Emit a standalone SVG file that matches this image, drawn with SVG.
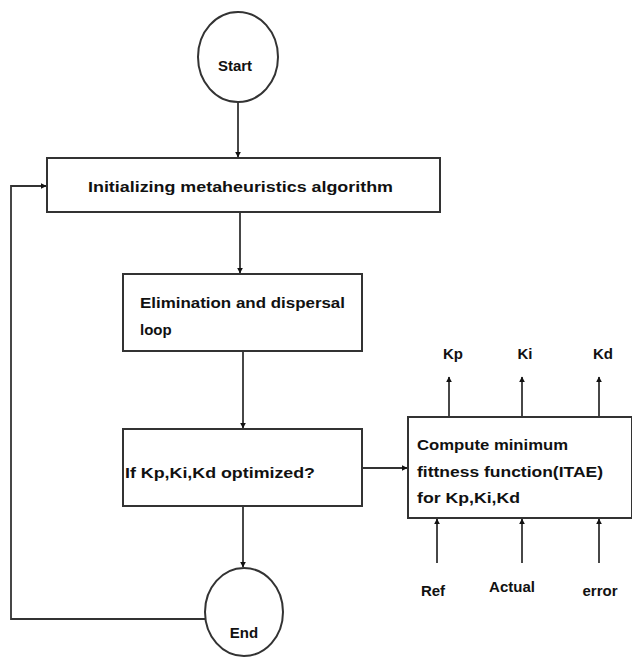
<svg xmlns="http://www.w3.org/2000/svg" width="632" height="661" viewBox="0 0 632 661">
<style>
.shape{fill:#fff;stroke:#333;stroke-width:2}
.ln{fill:none;stroke:#333;stroke-width:1.8}
.t{font-family:"Liberation Sans",Arial,sans-serif;font-weight:bold;font-size:15px;fill:#111}
</style>
<defs>
<marker id="ah" viewBox="0 0 10 10" refX="9" refY="5" markerWidth="6" markerHeight="6" orient="auto" markerUnits="userSpaceOnUse">
<path d="M0,0L10,5L0,10z" fill="#111"/>
</marker>
</defs>
<rect width="632" height="661" fill="#fff"/>
<g id="connectors">
<line class="ln" x1="238" y1="102" x2="238" y2="157" marker-end="url(#ah)"/>
<line class="ln" x1="240" y1="212" x2="240" y2="273" marker-end="url(#ah)"/>
<line class="ln" x1="243" y1="351" x2="243" y2="428" marker-end="url(#ah)"/>
<line class="ln" x1="362" y1="468" x2="407" y2="468" marker-end="url(#ah)"/>
<line class="ln" x1="243" y1="506" x2="243" y2="567" marker-end="url(#ah)"/>
<polyline class="ln" points="205,619 11,619 11,186 46,186" marker-end="url(#ah)"/>
<line class="ln" x1="449" y1="417" x2="449" y2="377" marker-end="url(#ah)"/>
<line class="ln" x1="522" y1="417" x2="522" y2="377" marker-end="url(#ah)"/>
<line class="ln" x1="599" y1="417" x2="599" y2="377" marker-end="url(#ah)"/>
<line class="ln" x1="437" y1="563" x2="437" y2="519" marker-end="url(#ah)"/>
<line class="ln" x1="522" y1="563" x2="522" y2="519" marker-end="url(#ah)"/>
<line class="ln" x1="599" y1="563" x2="599" y2="519" marker-end="url(#ah)"/>
</g>
<g id="start">
<ellipse class="shape" cx="238" cy="57" rx="40" ry="45"/>
<text class="t" x="235" y="71" text-anchor="middle">Start</text>
</g>
<g id="init">
<rect class="shape" x="47" y="158" width="393" height="54"/>
<text class="t" x="88" y="192" textLength="305" lengthAdjust="spacingAndGlyphs">Initializing metaheuristics algorithm</text>
</g>
<g id="elim">
<rect class="shape" x="123" y="274" width="239" height="77"/>
<text class="t" x="140" y="308" textLength="205" lengthAdjust="spacingAndGlyphs">Elimination and dispersal</text>
<text class="t" x="140" y="335">loop</text>
</g>
<g id="decision">
<rect class="shape" x="123" y="429" width="239" height="77"/>
<text class="t" x="125" y="478" textLength="190" lengthAdjust="spacingAndGlyphs">If Kp,Ki,Kd optimized?</text>
</g>
<g id="compute">
<rect class="shape" x="408" y="417" width="224" height="101"/>
<text class="t" x="417" y="450" textLength="151" lengthAdjust="spacingAndGlyphs">Compute minimum</text>
<text class="t" x="417" y="477" textLength="186" lengthAdjust="spacingAndGlyphs">fittness function(ITAE)</text>
<text class="t" x="417" y="503" textLength="103" lengthAdjust="spacingAndGlyphs">for Kp,Ki,Kd</text>
</g>
<g id="outputs">
<text class="t" x="453" y="359" text-anchor="middle">Kp</text>
<text class="t" x="525" y="359" text-anchor="middle">Ki</text>
<text class="t" x="603" y="359" text-anchor="middle">Kd</text>
</g>
<g id="inputs">
<text class="t" x="433" y="596" text-anchor="middle">Ref</text>
<text class="t" x="512" y="592" text-anchor="middle">Actual</text>
<text class="t" x="600" y="596" text-anchor="middle">error</text>
</g>
<g id="end">
<ellipse class="shape" cx="244" cy="612" rx="39" ry="44"/>
<text class="t" x="244" y="638" text-anchor="middle">End</text>
</g>
</svg>
